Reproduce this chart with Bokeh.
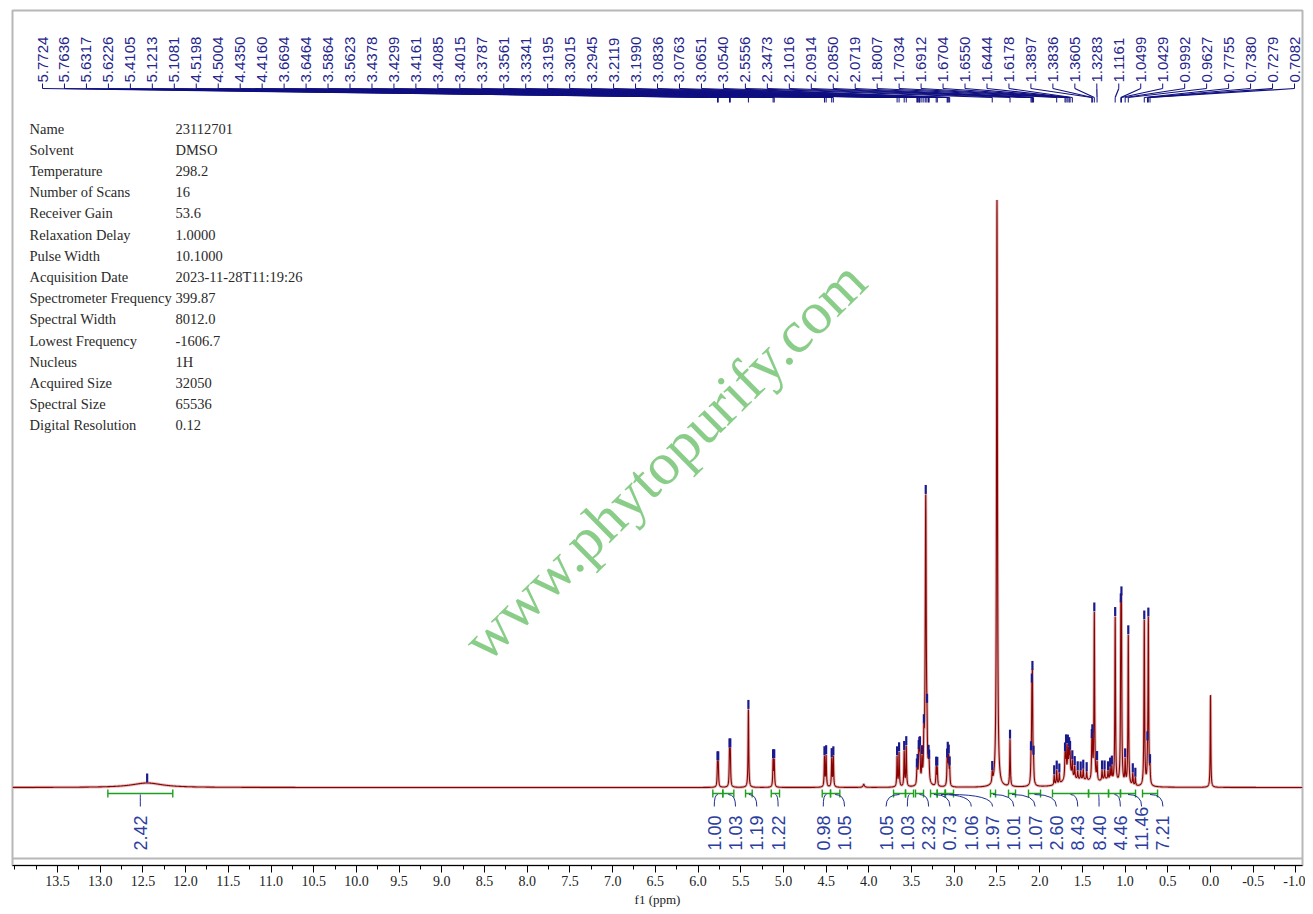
import numpy as np
from bokeh.plotting import figure
from bokeh.models import Range1d, FixedTicker, PrintfTickFormatter
from bokeh.core.properties import value
from bokeh.embed import file_html
from bokeh.resources import INLINE

# ---------------- data ----------------
meta_keys = ["Name", "Solvent", "Temperature", "Number of Scans", "Receiver Gain",
             "Relaxation Delay", "Pulse Width", "Acquisition Date", "Spectrometer Frequency",
             "Spectral Width", "Lowest Frequency", "Nucleus", "Acquired Size",
             "Spectral Size", "Digital Resolution"]
meta_values = ["23112701", "DMSO", "298.2", "16", "53.6", "1.0000", "10.1000",
               "2023-11-28T11:19:26", "399.87", "8012.0", "-1606.7", "1H", "32050",
               "65536", "0.12"]

# labelled peaks (ppm) and their heights (intensity units)
label_ppm = [5.7724, 5.7636, 5.6317, 5.6226, 5.4105, 5.1213, 5.1081, 4.5198, 4.5004, 4.4350,
             4.4160, 3.6694, 3.6464, 3.5864, 3.5623, 3.4378, 3.4299, 3.4161, 3.4085, 3.4015,
             3.3787, 3.3561, 3.3341, 3.3195, 3.3015, 3.2945, 3.2119, 3.1990, 3.0836, 3.0763,
             3.0651, 3.0540, 2.5556, 2.3473, 2.1016, 2.0914, 2.0850, 2.0719, 1.8007, 1.7034,
             1.6912, 1.6704, 1.6550, 1.6444, 1.6178, 1.3897, 1.3836, 1.3605, 1.3283, 1.1161,
             1.0499, 1.0429, 0.9992, 0.9627, 0.7755, 0.7380, 0.7279, 0.7082]
label_height = [22, 22, 33, 33, 78, 26, 26, 30, 31, 28,
                30, 30, 34, 35, 40, 12, 15, 25, 22, 28,
                22, 35, 288, 28, 14, 14, 18, 18, 20, 26,
                26, 16, 10, 47, 18, 70, 90, 18, 14, 22,
                28, 25, 20, 18, 15, 28, 32, 168, 18, 166,
                138, 148, 23, 150, 165, 16, 165, 14]

# picked but unlabelled small peaks
extra_ppm = [1.83, 1.77, 1.59, 1.555, 1.52, 1.49, 1.45, 1.27, 1.24, 1.20, 1.175, 1.155, 0.91, 0.88]
extra_height = [10, 10, 12, 8, 8, 10, 8, 10, 9, 8, 12, 14, 12, 8]

# broad signals
broad_ppm = [12.45, 1.66, 1.50, 1.22]
broad_height = [4.5, 12, 6, 6]
broad_hwhm = [0.22, 0.05, 0.15, 0.08]

# solvent / reference signals (not picked)
solvent_ppm = [2.500, 0.000, 4.06]
solvent_height = [587, 92, 3]
solvent_hwhm = [0.006, 0.004, 0.01]

# integrals
integ_start = [12.91, 5.827, 5.710, 5.444, 5.143, 4.546, 4.449, 3.711, 3.571, 3.454, 3.278,
               3.200, 3.103, 2.576, 2.365, 2.131, 1.850, 1.428, 1.194, 1.054, 0.796]
integ_end = [12.15, 5.710, 5.581, 5.366, 5.046, 4.449, 4.340, 3.571, 3.477, 3.360, 3.200,
             3.109, 3.009, 2.517, 2.283, 1.990, 1.428, 1.194, 1.054, 0.878, 0.620]
integ_value = [2.42, 1.00, 1.03, 1.19, 1.22, 0.98, 1.05, 1.05, 1.03, 2.32, 0.73,
               1.06, 1.97, 1.01, 1.07, 2.60, 8.43, 8.40, 4.46, 11.46, 7.21]

axis_title = "f1 (ppm)"
watermark = "www.phytopurify.com"

# ---------------- layout ----------------
FRAME_L, FRAME_T = 12, 10         # page position of the plot frame (= grey box)
FRAME_W = 1290                    # frame right edge at page x 1302
AXIS_Y = 865                      # page y of the x axis line (frame bottom)
FRAME_H = AXIS_Y - FRAME_T
BOTTOM = 47
RIGHT = 3
W, H = FRAME_L + FRAME_W + RIGHT, FRAME_T + FRAME_H + BOTTOM
PX = 85.41                        # pixels per ppm
X_LEFT = 14.0266
X_RIGHT = X_LEFT - FRAME_W / PX


def xd(page_x):
    return X_LEFT - (page_x - FRAME_L) / PX


def px(ppm):
    return FRAME_L + (X_LEFT - np.asarray(ppm, float)) * PX


def yd(page_y):
    return AXIS_Y - page_y


BASE = yd(787)
SHARP = 0.0045


def spread(centers_px, gap, lo, hi, greedy_mix=0.0):
    order = np.argsort(centers_px)
    s = [float(centers_px[i]) for i in order]

    def start(m):
        st = np.mean([v - i * gap for i, v in enumerate(m)])
        if greedy_mix:
            st = (1 - greedy_mix) * st + greedy_mix * m[0]
        return min(max(st, lo), hi - (len(m) - 1) * gap)

    clusters = []
    for v in s:
        clusters.append([v])
        while len(clusters) > 1:
            a, b = clusters[-2], clusters[-1]
            if start(a) + len(a) * gap > start(b) + 1e-9:
                clusters[-2] = a + b
                clusters.pop()
            else:
                break
    pos = []
    for c in clusters:
        st = start(c)
        pos += [st + i * gap for i in range(len(c))]
    out = np.empty(len(pos))
    out[order] = pos
    return out


# spectrum model from the peak table
all_ppm = np.array(label_ppm + extra_ppm + solvent_ppm + broad_ppm)
all_h = np.array(label_height + extra_height + solvent_height + broad_height, float)
all_w = np.array([0.007 if v == 3.3341 else SHARP for v in label_ppm] +
                 [SHARP] * len(extra_ppm) + solvent_hwhm + broad_hwhm)


def spec(x):
    x = np.asarray(x, float)[..., None]
    return (all_h / (1 + ((x - all_ppm) / all_w) ** 2)).sum(-1)


grid = np.unique(np.concatenate([np.arange(X_RIGHT, X_LEFT, 0.001), all_ppm]))
sy = BASE + spec(grid)

p = figure(width=W, height=H, output_backend="svg", toolbar_location=None,
           x_range=Range1d(X_LEFT, X_RIGHT), y_range=Range1d(0, FRAME_H),
           y_axis_location=None, min_border_left=FRAME_L, min_border_right=RIGHT,
           min_border_top=FRAME_T, min_border_bottom=BOTTOM)
p.outline_line_color = "#b8b8b8"
p.outline_line_width = 2
p.xgrid.visible = False
p.ygrid.visible = False
p.background_fill_color = "white"
p.border_fill_color = "white"

# bottom edge of the grey box (sits above the axis line)
p.segment(x0=[X_LEFT], y0=[yd(858)], x1=[X_RIGHT], y1=[yd(858)], line_color="#b8b8b8", line_width=2)

# watermark
p.text(x=[xd(664)], y=[yd(460)], text=[watermark], angle=0.78,
       text_align="center", text_baseline="middle",
       text_font=value("Liberation Serif"), text_font_size="60px",
       text_color="#74c474", text_alpha=0.85)

# metadata
my = [yd(128 + 21.2 * i) for i in range(len(meta_keys))]
p.text(x=[xd(29)] * len(meta_keys), y=my, text=meta_keys, text_baseline="middle",
       text_font=value("Liberation Serif"), text_font_size="14.5px", text_color="#2a2a2a")
p.text(x=[xd(175)] * len(meta_values), y=my, text=meta_values, text_baseline="middle",
       text_font=value("Liberation Serif"), text_font_size="14.5px", text_color="#2a2a2a")

# spectrum
p.line(grid, sy, line_color="#e0bcbc", line_width=3)
p.line(grid, sy, line_color="#8b0000", line_width=1.1)

# peak pick marks
picked = np.array(label_ppm + extra_ppm + [broad_ppm[0]])
ptop = BASE + spec(picked) + 0.5
p.segment(x0=picked, y0=ptop, x1=picked, y1=ptop + 9, line_color="#1a1a8c", line_width=2.2)

# top peak labels
lab_px = spread(px(label_ppm), (1294 - 42) / (len(label_ppm) - 1), 42, 1294)
lab_x = [xd(v) for v in lab_px]
LY = yd(82)
k = len(lab_x)
p.segment(x0=lab_x, y0=[LY - 1] * k, x1=lab_x, y1=[LY - 6] * k, line_color="#101080", line_width=1)
p.segment(x0=lab_x, y0=[LY - 6] * k, x1=label_ppm, y1=[LY - 15] * k, line_color="#101080", line_width=1.2)
p.segment(x0=label_ppm, y0=[LY - 15] * k, x1=label_ppm, y1=[LY - 20] * k, line_color="#101080", line_width=1)
p.text(x=lab_x, y=[LY] * k, text=[f"{v:.4f}" for v in label_ppm], angle=np.pi / 2,
       text_align="left", text_baseline="middle", text_font=value("Liberation Sans"),
       text_font_size="15px", text_color="#26268c")

# integrals
GY = yd(793)
n = len(integ_value)
p.segment(x0=integ_start, y0=[GY] * n, x1=integ_end, y1=[GY] * n, line_color="#1f9f1f", line_width=1.4)
p.segment(x0=integ_start, y0=[GY - 4] * n, x1=integ_start, y1=[GY + 4] * n, line_color="#1f9f1f", line_width=1.4)
p.segment(x0=integ_end, y0=[GY - 4] * n, x1=integ_end, y1=[GY + 4] * n, line_color="#1f9f1f", line_width=1.4)
centers = [(a + b) / 2 for a, b in zip(integ_start, integ_end)]
ilab_px = spread(px(centers), 21.3, 20, 1290, greedy_mix=0.5)
ilab_x = [xd(v) for v in ilab_px]
p.quadratic(x0=centers, y0=[GY - 1] * n, x1=ilab_x, y1=[yd(806)] * n,
            cx=ilab_x, cy=[GY - 1] * n, line_color="#1f2f8f", line_width=1)
p.text(x=ilab_x, y=[yd(850)] * n, text=[f"{v:.2f}" for v in integ_value], angle=np.pi / 2,
       text_align="left", text_baseline="middle", text_font=value("Liberation Sans"),
       text_font_size="18px", text_color="#2c3da0")

# axis
major = [round(13.5 - 0.5 * i, 2) for i in range(30)]
minor = [round(14.0 - 0.25 * i, 2) for i in range(61)]
ax = p.xaxis[0]
ax.ticker = FixedTicker(ticks=major, minor_ticks=minor)
ax.formatter = PrintfTickFormatter(format="%.1f")
ax.axis_line_color = "black"
ax.axis_line_width = 1.2
ax.major_tick_line_color = "black"
ax.minor_tick_line_color = "black"
ax.major_tick_out = 7
ax.major_tick_in = 0
ax.minor_tick_out = 4
ax.minor_tick_in = 0
ax.major_label_standoff = 3
ax.major_label_text_font = "Liberation Serif"
ax.major_label_text_font_size = "14px"
ax.major_label_text_color = "#222222"
ax.axis_label = axis_title
ax.axis_label_standoff = 3
ax.axis_label_text_font = "Liberation Serif"
ax.axis_label_text_font_size = "13px"
ax.axis_label_text_font_style = "normal"
ax.axis_label_text_color = "#222222"

open("out.html", "w").write(file_html(p, INLINE))
